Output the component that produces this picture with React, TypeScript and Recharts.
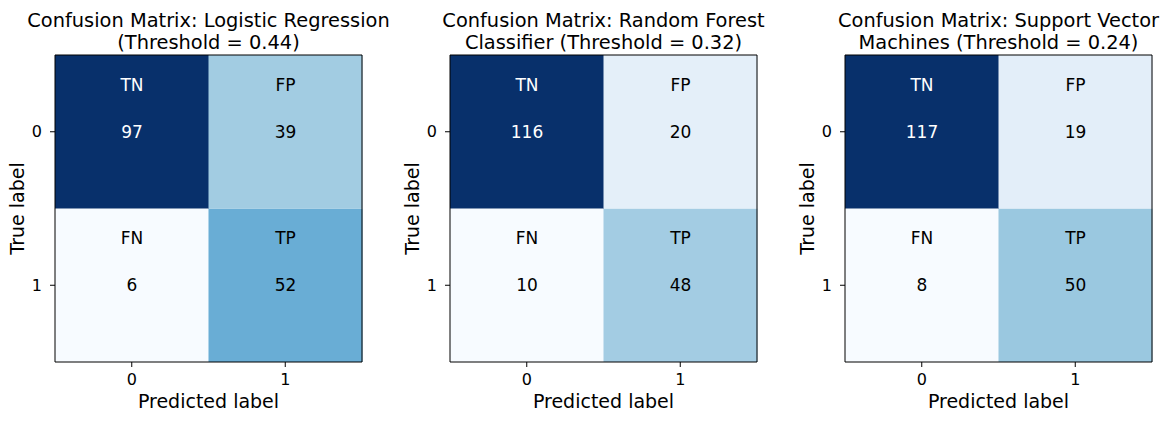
import { BarChart, Bar, XAxis, YAxis, Cell, LabelList, Label } from "recharts";

// confusion matrices, rows = true label, columns = predicted label
const predictedLabels = ["0", "1"];
const trueLabels = ["0", "1"];
const cellNames = [
  ["TN", "FP"],
  ["FN", "TP"],
];
const lrMatrix = [
  [97, 39],
  [6, 52],
];
const rfMatrix = [
  [116, 20],
  [10, 48],
];
const svmMatrix = [
  [117, 19],
  [8, 50],
];
const panelTitles = [
  ["Confusion Matrix: Logistic Regression", "(Threshold = 0.44)"],
  ["Confusion Matrix: Random Forest", "Classifier (Threshold = 0.32)"],
  ["Confusion Matrix: Support Vector", "Machines (Threshold = 0.24)"],
];
const matrices = [lrMatrix, rfMatrix, svmMatrix];

// matplotlib "Blues" stops
const BLUES = [
  "#f7fbff", "#deebf7", "#c6dbef", "#9ecae1", "#6baed6",
  "#4292c6", "#2171b5", "#08519c", "#08306b",
];

function hexToRgb(h: string) {
  const n = parseInt(h.slice(1), 16);
  return [(n >> 16) & 255, (n >> 8) & 255, n & 255];
}

function blues(t: number) {
  const c = Math.max(0, Math.min(1, t)) * (BLUES.length - 1);
  const i = Math.min(Math.floor(c), BLUES.length - 2);
  const f = c - i;
  const a = hexToRgb(BLUES[i]);
  const b = hexToRgb(BLUES[i + 1]);
  const m = a.map((v, k) => Math.round(v + (b[k] - v) * f));
  return `rgb(${m[0]},${m[1]},${m[2]})`;
}

const FONT = "'DejaVu Sans', Verdana, sans-serif";

function ConfusionPanel({ matrix, title }: { matrix: number[][]; title: string[] }) {
  const flat = matrix.flat();
  const lo = Math.min(...flat);
  const hi = Math.max(...flat);
  const norm = (v: number) => (v - lo) / (hi - lo);

  // one entry per predicted column; each row of the matrix is a stacked unit cell
  const data = predictedLabels.map((p) => ({ pred: p, row1: 1, row0: 1 }));

  const cellLabel = (row: number) => (props: any) => {
    const { x, y, width, height, index } = props;
    const v = matrix[row][index];
    const cx = Number(x) + Number(width) / 2;
    const cy = Number(y) + Number(height) / 2;
    const color = norm(v) > 0.75 ? "#ffffff" : "#000000";
    return (
      <g>
        <text x={cx} y={cy - 47} textAnchor="middle" dominantBaseline="central" fontSize={17} fill={color}>
          {cellNames[row][index]}
        </text>
        <text x={cx} y={cy} textAnchor="middle" dominantBaseline="central" fontSize={17} fill={color}>
          {v}
        </text>
      </g>
    );
  };

  return (
    <div style={{ position: "relative", width: 390, height: 424 }}>
      <div
        style={{
          position: "absolute",
          left: 208.5,
          transform: "translateX(-50%)",
          top: 10,
          textAlign: "center",
          fontSize: 19.4,
          lineHeight: "21.5px",
          whiteSpace: "nowrap",
          color: "#000",
        }}
      >
        <div>{title[0]}</div>
        <div>{title[1]}</div>
      </div>
      <BarChart
        width={390}
        height={424}
        data={data}
        margin={{ top: 54, right: 27, left: 0, bottom: 0 }}
        barCategoryGap={0}
        barGap={0}
      >
        <XAxis
          dataKey="pred"
          type="category"
          height={62}
          tick={{ fill: "#000", fontSize: 16 }}
          tickLine={{ stroke: "#000" }}
          axisLine={{ stroke: "#000" }}
          tickSize={5}
          tickMargin={7}
        >
          <Label value="Predicted label" position="insideBottom" offset={16} fontSize={19} fill="#000" />
        </XAxis>
        <XAxis xAxisId="top" dataKey="pred" orientation="top" height={1} tick={false} tickLine={false} axisLine={{ stroke: "#000" }} />
        <YAxis
          type="number"
          domain={[0, 2]}
          ticks={[1.5, 0.5]}
          tickFormatter={(v: number) => trueLabels[Math.floor(2 - v)]}
          width={55}
          tick={{ fill: "#000", fontSize: 16 }}
          tickLine={{ stroke: "#000" }}
          axisLine={{ stroke: "#000" }}
          tickSize={5}
          tickMargin={8}
        >
          <Label
            value="True label"
            angle={-90}
            position="insideLeft"
            offset={17}
            fontSize={19}
            fill="#000"
            style={{ textAnchor: "middle" }}
          />
        </YAxis>
        <YAxis yAxisId="right" orientation="right" width={1} domain={[0, 2]} tick={false} tickLine={false} axisLine={{ stroke: "#000" }} />
        <Bar dataKey="row1" stackId="m" isAnimationActive={false}>
          {data.map((d, j) => (
            <Cell key={d.pred} fill={blues(norm(matrix[1][j]))} />
          ))}
          <LabelList dataKey="row1" content={cellLabel(1)} />
        </Bar>
        <Bar dataKey="row0" stackId="m" isAnimationActive={false}>
          {data.map((d, j) => (
            <Cell key={d.pred} fill={blues(norm(matrix[0][j]))} />
          ))}
          <LabelList dataKey="row0" content={cellLabel(0)} />
        </Bar>
      </BarChart>
    </div>
  );
}

export default function App() {
  return (
    <div
      style={{
        position: "relative",
        width: 1169,
        height: 424,
        overflow: "hidden",
        background: "#fff",
        fontFamily: FONT,
      }}
    >
      <style>{`body { margin: 0; }`}</style>
      {matrices.map((m, i) => (
        <div key={i} style={{ position: "absolute", left: 395 * i, top: 0 }}>
          <ConfusionPanel matrix={m} title={panelTitles[i]} />
        </div>
      ))}
    </div>
  );
}
